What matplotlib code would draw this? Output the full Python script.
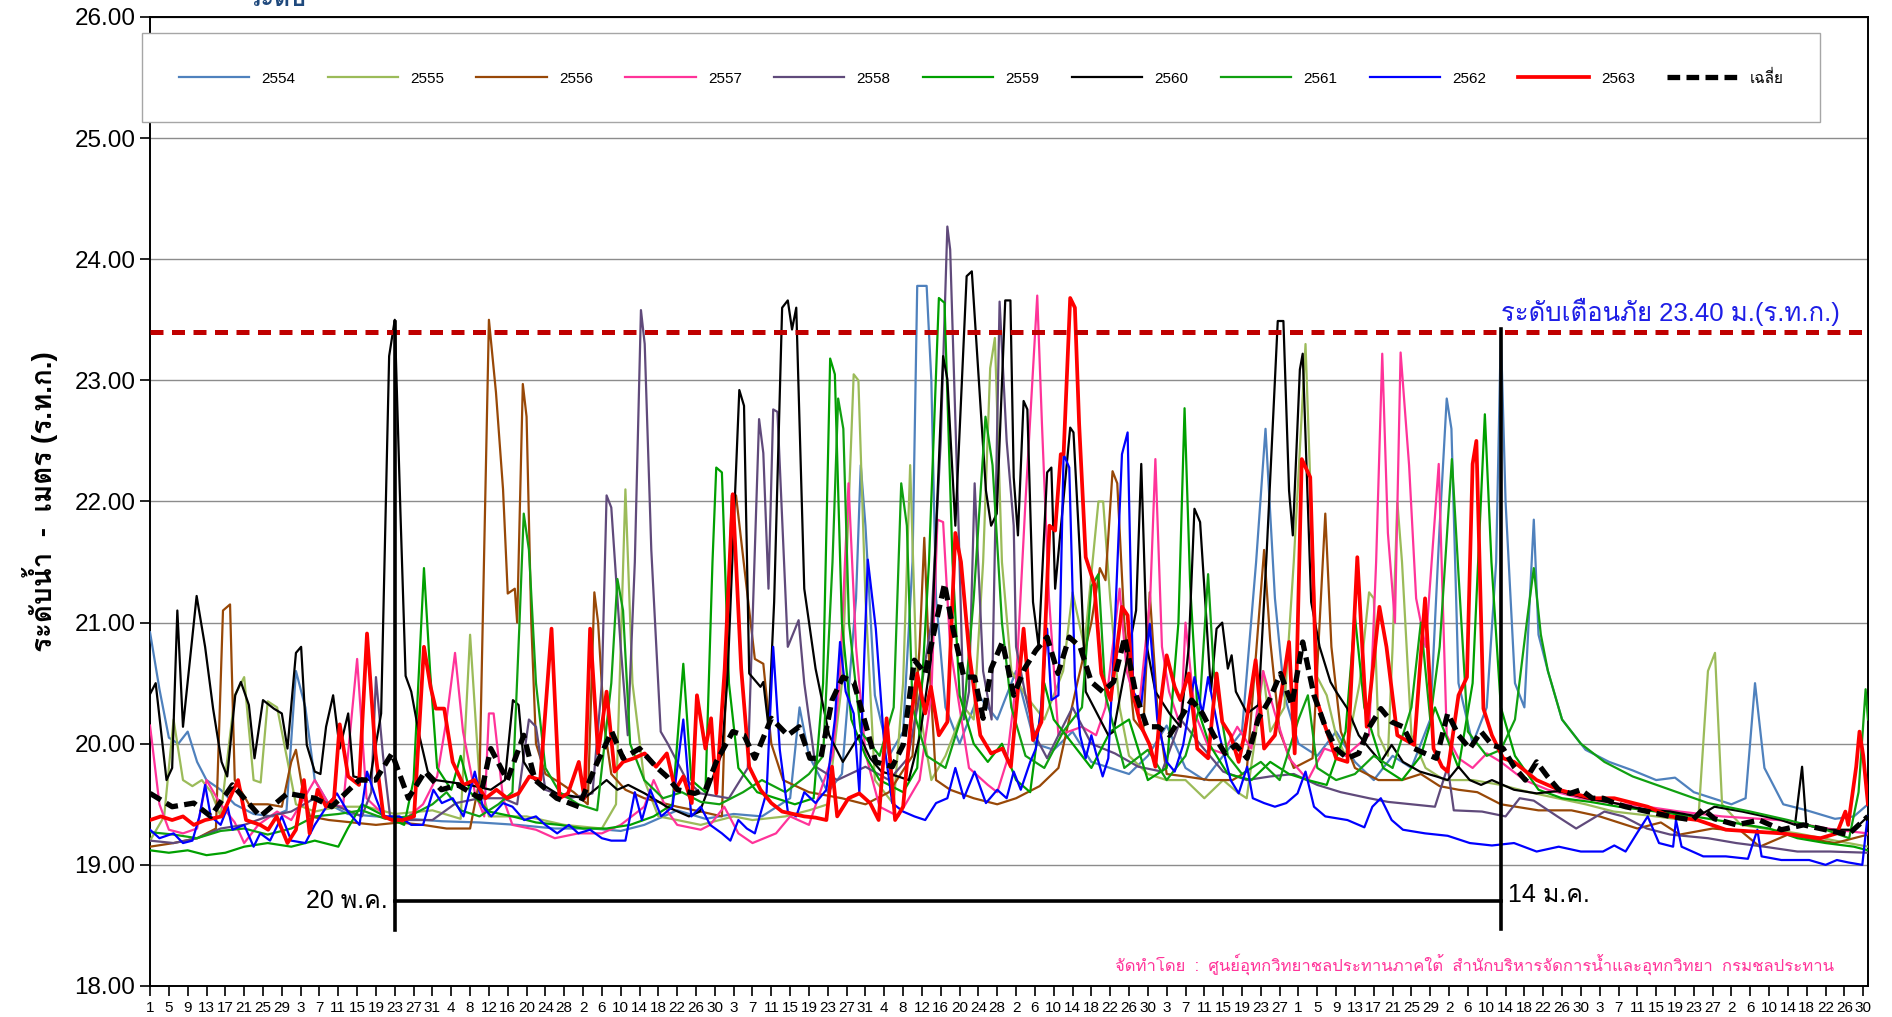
import matplotlib
matplotlib.use("Agg")
from matplotlib import pyplot as plt, font_manager
from matplotlib.ft2font import FT2Font

# ---- data (day index from 1 Apr, water level m.MSL) ----
years = ["2554", "2555", "2556", "2557", "2558", "2559", "2560", "2561", "2562", "2563"]
colors = ["#4F81BD", "#9BBB59", "#984807", "#FF3399", "#604A7B", "#00A000", "#000000", "#10A010", "#0000FF", "#FF0000"]
month_len = [30, 31, 30, 31, 31, 30, 31, 30, 31, 31, 29, 31]

s2554 = [(0, 20.92), (2, 20.45), (4, 20.05), (6, 20.0), (8, 20.1), (10, 19.85), (12, 19.7), (15, 19.62), (18, 19.5),
         (22, 19.42), (26, 19.4), (29, 19.45), (31, 20.6), (33, 20.3), (35, 19.7), (38, 19.5), (42, 19.42), (48, 19.4),
         (55, 19.38), (62, 19.36), (70, 19.35), (78, 19.33), (86, 19.3), (94, 19.3), (100, 19.28), (105, 19.33),
         (112, 19.45), (118, 19.38), (124, 19.42), (130, 19.4), (136, 19.55), (138, 20.3), (140, 19.9), (144, 19.6),
         (147, 19.75), (150, 21.2), (151, 22.3), (152, 21.8), (154, 20.4), (157, 19.9), (160, 20.1), (162, 21.5),
         (163, 23.78), (165, 23.78), (166, 23.0), (167, 21.2), (169, 20.3), (172, 20.0), (176, 20.4), (180, 20.2),
         (184, 20.6), (188, 20.0), (192, 19.95), (196, 20.1), (200, 19.85), (204, 19.8), (208, 19.75), (212, 19.9),
         (216, 20.15), (220, 19.8), (224, 19.7), (228, 19.9), (232, 20.1), (235, 21.5), (237, 22.6), (239, 21.2),
         (241, 20.4), (244, 20.0), (248, 19.9), (252, 20.1), (256, 19.85), (260, 19.7), (264, 19.9), (268, 19.8),
         (272, 20.2), (274, 21.8), (275.5, 22.85), (276.5, 22.6), (278, 20.5), (281, 20.0), (284, 20.3), (286, 21.5),
         (287, 23.4), (288, 22.0), (290, 20.5), (292, 20.3), (294, 21.85), (295, 20.9), (297, 20.6), (300, 20.2),
         (305, 19.95), (310, 19.85), (315, 19.78), (320, 19.7), (324, 19.72), (328, 19.6), (332, 19.55), (336, 19.5),
         (339, 19.55), (341, 20.5), (343, 19.8), (347, 19.5), (352, 19.45), (358, 19.38), (362, 19.4), (365, 19.5)]

s2555 = [(0, 19.2), (3, 19.4), (5, 20.2), (7, 19.7), (9, 19.65), (11, 19.7), (13, 19.6), (15, 19.4), (18, 20.4),
         (20, 20.55), (22, 19.7), (23.5, 19.68), (25, 20.35), (27, 20.3), (29, 19.9), (31, 19.5), (35, 19.44),
         (40, 19.48), (46, 19.48), (52, 19.42), (60, 19.45), (66, 19.38), (68, 20.9), (70, 19.7), (72, 19.4),
         (80, 19.4), (88, 19.33), (96, 19.3), (99, 19.5), (101, 22.1), (102.5, 20.5), (105, 19.7), (108, 19.4),
         (112, 19.37), (117, 19.33), (124, 19.4), (128, 19.37), (135, 19.4), (140, 19.45), (144, 19.5), (147, 20.5),
         (149.5, 23.05), (150.5, 23.0), (152, 21.2), (154, 19.7), (158, 19.5), (160, 20.5), (161.5, 22.3), (163, 20.4),
         (166, 19.7), (169, 19.9), (173, 20.3), (175, 20.2), (177, 21.5), (178.5, 23.1), (179.5, 23.35), (181, 21.5),
         (183, 20.6), (186, 20.4), (190, 20.2), (194, 20.6), (196, 21.25), (198.5, 20.8), (201.5, 22.0), (202.5, 22.0),
         (204, 21.2), (206, 20.3), (208, 19.9), (212, 19.75), (216, 19.7), (220, 19.7), (224, 19.55), (228, 19.7),
         (231, 19.6), (233, 19.55), (235, 20.1), (236.5, 20.6), (238, 20.1), (241, 20.3), (243, 21.5), (245.5, 23.3),
         (247, 21.6), (248, 20.55), (250, 20.4), (252, 20.07), (254, 19.9), (257, 20.5), (259, 21.25), (260, 21.2),
         (261, 20.07), (263, 19.9), (264, 20.8), (265, 22.0), (266, 21.5), (268, 20.07), (271, 19.8), (275, 19.7),
         (281, 19.7), (287, 19.66), (293, 19.6), (299, 19.55), (305, 19.5), (311, 19.44), (320, 19.4), (326, 19.37),
         (329, 19.4), (331, 20.6), (332.5, 20.75), (334, 19.5), (338, 19.33), (343, 19.3), (350, 19.26), (358, 19.2),
         (365, 19.15)]

s2556 = [(0, 19.15), (5, 19.18), (10, 19.22), (14, 19.3), (15.5, 21.1), (17, 21.15), (18, 19.7), (21, 19.5), (25, 19.5),
         (28, 19.48), (30, 19.85), (31, 19.95), (32.5, 19.6), (34, 19.4), (38, 19.37), (43, 19.35), (48, 19.33),
         (53, 19.35), (58, 19.33), (63, 19.3), (68, 19.3), (70, 19.7), (72, 23.5), (73.5, 22.9), (75, 22.1),
         (76, 21.24), (77.5, 21.28), (78, 21.0), (79.2, 22.97), (80, 22.7), (81, 21.0), (82, 20.0), (84, 19.75),
         (87, 19.68), (90, 19.6), (93, 19.5), (94.4, 21.25), (95.2, 21.0), (96.5, 20.15), (98, 19.75), (101, 19.62),
         (105, 19.55), (112, 19.48), (117, 19.44), (121.5, 19.4), (123.6, 22.05), (124.5, 22.05), (128.5, 20.7),
         (130.3, 20.66), (132, 20.0), (134.5, 19.7), (140, 19.6), (147, 19.55), (152, 19.5), (157, 19.6), (162, 19.9),
         (163.5, 20.8), (164.5, 21.7), (165.5, 20.7), (167, 19.7), (170, 19.62), (175, 19.55), (180, 19.5), (184, 19.55),
         (189, 19.65), (193, 19.8), (197, 20.5), (200, 21.0), (201.8, 21.45), (203, 21.35), (204.5, 22.25),
         (205.5, 22.15), (207, 21.0), (209, 20.2), (211, 20.1), (212.4, 21.25), (214, 20.3), (216, 19.75), (220, 19.73),
         (225, 19.7), (230, 19.7), (233, 19.77), (235, 20.75), (236.7, 21.6), (238, 20.85), (240, 20.1), (243, 19.8),
         (247, 19.88), (249.7, 21.9), (251, 20.8), (253, 20.1), (256, 19.8), (261, 19.7), (266, 19.7), (270, 19.75),
         (274, 19.65), (278, 19.62), (282, 19.6), (287, 19.5), (295, 19.45), (302, 19.45), (308, 19.4), (316, 19.3),
         (321, 19.35), (325, 19.25), (332, 19.3), (338, 19.28), (342, 19.15), (348, 19.25), (352, 19.22), (358, 19.18),
         (365, 19.25)]

s2557 = [(0, 20.15), (2, 19.5), (4, 19.29), (7, 19.26), (10, 19.3), (12, 19.7), (15, 19.5), (18, 19.35), (20, 19.18),
         (23, 19.33), (27, 19.44), (30, 19.37), (35, 19.7), (38, 19.5), (41, 19.48), (44, 20.7), (46, 19.55), (50, 19.4),
         (54, 19.37), (58, 19.5), (61, 19.73), (63, 20.2), (64.8, 20.75), (66.5, 20.1), (69, 19.6), (71, 19.4),
         (72, 20.25), (73, 20.25), (75, 19.55), (77, 19.33), (82, 19.29), (86, 19.22), (91, 19.26), (96, 19.26),
         (100, 19.33), (105, 19.48), (107, 19.7), (110, 19.44), (112, 19.33), (117, 19.29), (119, 19.33), (122, 19.48),
         (125, 19.26), (128, 19.18), (133, 19.26), (136, 19.4), (140, 19.33), (145, 19.9), (146.5, 20.5), (148.4, 22.15),
         (150, 20.8), (152, 19.92), (155, 19.48), (159, 19.4), (163.5, 19.7), (166, 20.4), (167.3, 21.85), (168.5, 21.83),
         (170, 20.8), (172, 20.3), (174, 19.8), (178, 19.66), (180, 19.6), (182, 19.85), (184, 20.5), (186, 22.0),
         (188.5, 23.7), (189.5, 22.64), (191, 21.2), (193, 20.07), (198, 20.14), (201, 20.07), (203, 20.3), (206, 21.28),
         (207.5, 20.6), (210, 20.25), (212.5, 21.2), (213.6, 22.35), (215, 20.8), (216.5, 20.43), (219, 20.14),
         (220, 21.0), (222, 20.25), (225, 19.96), (228, 19.92), (231, 20.14), (234, 19.96), (236.5, 20.6), (239, 20.25),
         (242, 19.88), (246, 19.7), (249.5, 19.96), (254, 19.9), (259, 20.07), (260.5, 21.5), (261.8, 23.22),
         (263, 21.74), (264.5, 21.0), (265.7, 23.23), (267.5, 22.3), (269, 21.2), (271, 20.8), (273.8, 22.31),
         (275.5, 20.07), (278, 19.88), (281, 19.8), (284, 19.92), (287, 19.85), (292, 19.7), (297, 19.62), (304, 19.55),
         (311, 19.51), (318, 19.48), (325, 19.44), (334, 19.4), (346, 19.37), (352, 19.33), (358, 19.29), (365, 19.26)]

s2558 = [(0, 19.2), (5, 19.18), (10, 19.22), (15, 19.3), (20, 19.33), (25, 19.4), (30, 19.44), (35, 19.55), (40, 19.48),
         (45, 19.4), (47, 19.6), (48, 20.55), (49.5, 19.9), (51, 19.4), (55, 19.37), (60, 19.37), (65, 19.51), (70, 19.55),
         (75, 19.55), (78, 19.5), (80.5, 20.2), (82, 20.14), (84, 19.62), (89, 19.55), (94, 19.59), (96, 20.5),
         (97, 22.05), (98, 21.95), (100, 20.8), (101.5, 20.07), (103, 21.5), (104.3, 23.58), (105.1, 23.3),
         (106.5, 21.6), (108.5, 20.1), (110, 20.0), (114, 19.7), (117, 19.59), (123, 19.55), (127, 19.8), (129.4, 22.68),
         (130.3, 22.4), (131.4, 21.28), (132.4, 22.76), (133.3, 22.74), (135.5, 20.8), (137.8, 21.02), (139, 20.5),
         (141.4, 19.81), (146, 19.7), (152, 19.81), (157, 19.7), (161, 19.88), (164, 20.5), (166, 21.0), (168, 22.5),
         (169.4, 24.27), (170, 24.08), (171.7, 21.91), (172.9, 20.2), (174, 20.43), (175.2, 22.15), (177, 20.6),
         (178.8, 20.2), (180.5, 23.65), (182, 22.5), (183.5, 21.8), (184, 20.8), (186, 20.4), (188, 20.07),
         (190.6, 19.88), (193, 20.07), (196, 20.3), (200, 20.0), (205, 19.92), (210, 19.81), (215, 19.77), (219, 20.2),
         (223, 20.0), (228, 19.77), (233, 19.7), (238, 19.73), (243, 19.75), (248, 19.66), (253, 19.6), (259, 19.55),
         (263, 19.52), (268, 19.5), (273, 19.48), (275.7, 19.81), (277, 19.45), (283, 19.44), (288, 19.4), (291, 19.55),
         (294, 19.53), (299, 19.4), (303, 19.3), (306, 19.37), (309, 19.44), (313, 19.4), (318, 19.3), (323, 19.25),
         (331, 19.22), (337, 19.18), (343, 19.15), (350, 19.11), (357, 19.11), (365, 19.1)]

s2559 = [(0, 19.12), (4, 19.1), (8, 19.12), (12, 19.08), (16, 19.1), (20, 19.15), (25, 19.18), (30, 19.15), (35, 19.2),
         (40, 19.15), (42, 19.3), (45, 19.5), (50, 19.4), (54, 19.33), (56, 19.7), (58.2, 21.45), (59.5, 20.6),
         (61, 19.8), (64, 19.62), (66, 19.9), (68, 19.6), (72, 19.44), (77, 19.4), (82, 19.35), (87, 19.33), (92, 19.3),
         (97, 19.3), (102, 19.33), (107, 19.4), (111, 19.5), (113.3, 20.66), (115, 19.7), (118, 19.6), (119.5, 21.5),
         (120.3, 22.28), (121.5, 22.24), (123, 20.5), (125, 19.8), (129, 19.6), (133, 19.55), (137, 19.5), (141, 19.55),
         (143, 20.5), (144.5, 23.18), (145.5, 23.05), (147, 21.0), (149, 20.2), (152, 19.9), (155, 19.7), (160, 19.6),
         (163, 19.8), (165.5, 21.5), (167.6, 23.68), (168.8, 23.64), (170.5, 21.5), (172, 20.4), (175, 20.0),
         (178, 19.85), (181, 20.0), (184, 19.7), (187, 19.6), (190, 20.5), (192, 20.2), (196, 20.0), (200, 19.8),
         (204, 20.1), (208, 20.2), (212, 19.7), (216, 19.8), (218.5, 21.0), (219.8, 22.77), (221, 21.3), (222.5, 20.3),
         (225, 20.0), (229, 19.75), (234, 19.7), (238, 19.85), (242, 19.75), (246, 19.7), (250, 19.66), (254, 20.1),
         (256, 21.05), (258, 20.3), (262, 19.8), (266, 19.7), (270, 19.9), (273, 20.3), (278, 19.8), (281, 20.5),
         (283.6, 22.72), (285, 21.5), (287, 20.3), (290, 19.9), (295, 19.62), (300, 19.55), (306, 19.52), (312, 19.48),
         (320, 19.44), (328, 19.4), (336, 19.35), (344, 19.3), (350, 19.22), (356, 19.18), (362, 19.15), (365, 19.12)]

s2560 = [(0, 20.41), (1.2, 20.5), (3.5, 19.7), (4.7, 19.8), (5.8, 21.1), (7, 20.14), (9.9, 21.22), (11.7, 20.8),
         (13.4, 20.29), (15.2, 19.85), (16.4, 19.73), (18.1, 20.4), (19.3, 20.51), (21, 20.32), (22.2, 19.88),
         (24, 20.36), (26.3, 20.29), (28, 20.25), (29.2, 19.96), (31, 20.75), (32.1, 20.8), (33.3, 19.99), (35, 19.77),
         (36.2, 19.75), (37.4, 20.14), (38.9, 20.4), (40.3, 19.96), (42.1, 20.25), (43.2, 19.73), (46.7, 19.7),
         (49.1, 20.25), (50.8, 23.2), (52, 23.5), (53.2, 21.91), (54.3, 20.56), (55.5, 20.43), (57.2, 20.07), (59, 19.77),
         (60.7, 19.7), (67.8, 19.66), (72.4, 19.62), (75.4, 19.7), (77.1, 20.36), (78.3, 20.32), (79.4, 19.85),
         (81.8, 19.7), (86.4, 19.59), (92.3, 19.55), (97, 19.7), (99.3, 19.62), (101.6, 19.66), (105.1, 19.59),
         (109.8, 19.48), (114.5, 19.4), (116.8, 19.44), (121.5, 19.92), (122.7, 20.55), (125.2, 22.92), (126.2, 22.79),
         (127.3, 20.58), (129.7, 20.47), (130.3, 20.51), (131.4, 20.14), (132.6, 21.17), (134.3, 23.6), (135.5, 23.66),
         (136.4, 23.42), (137.3, 23.6), (139, 21.28), (141.4, 20.62), (144.3, 20.07), (147.2, 19.85), (150.7, 20.07),
         (153, 19.88), (155.4, 19.77), (158.9, 19.73), (161.2, 19.7), (163.6, 20.07), (165.9, 20.69), (168.5, 23.2),
         (169.4, 23.01), (171.1, 21.8), (173.5, 23.86), (174.6, 23.9), (177.6, 22.09), (178.7, 21.8), (179.9, 21.9),
         (181.7, 23.66), (182.8, 23.66), (183.5, 22.2), (184.4, 21.72), (185.6, 22.83), (186.4, 22.76), (187.6, 21.17),
         (188.8, 20.8), (190.6, 22.24), (191.5, 22.28), (192.3, 21.28), (195.5, 22.61), (196.2, 22.57), (197.6, 21.54),
         (198.8, 20.43), (201.2, 20.25), (203.6, 20.07), (204.7, 20.1), (209.5, 21.1), (210.6, 22.31), (211.8, 20.8),
         (213.6, 20.43), (216.6, 20.25), (218.9, 20.14), (220.7, 20.8), (221.9, 21.94), (223.1, 21.83), (224.2, 21.17),
         (225.4, 20.43), (226.6, 20.95), (227.8, 21.0), (229, 20.62), (229.8, 20.73), (230.7, 20.43), (233.1, 20.25),
         (235.5, 20.32), (237.2, 21.54), (239.6, 23.49), (240.8, 23.49), (242, 22.09), (242.8, 21.72), (244.3, 23.09),
         (244.9, 23.22), (246.7, 21.17), (248.5, 20.8), (250.8, 20.51), (252, 20.43), (254.4, 20.29), (256.8, 20.07),
         (259.1, 19.96), (261.5, 19.85), (263.8, 19.99), (266.2, 19.85), (269.8, 19.77), (273.3, 19.73), (275.7, 19.7),
         (278, 19.81), (280.4, 19.7), (282.8, 19.66), (285.1, 19.7), (289.8, 19.62), (294.6, 19.59), (299.3, 19.61),
         (305.2, 19.55), (311.1, 19.51), (317, 19.46), (323, 19.44), (328.8, 19.4), (332.4, 19.48), (338.3, 19.44),
         (346.6, 19.37), (349.5, 19.33), (351, 19.81), (351.9, 19.33), (356, 19.29), (362, 19.29), (365, 19.4)]

s2561 = [(0, 19.27), (5, 19.25), (10, 19.22), (15, 19.28), (20, 19.3), (25, 19.25), (30, 19.3), (35, 19.4), (40, 19.42),
         (45, 19.45), (50, 19.38), (55, 19.4), (60, 19.5), (63, 19.6), (66, 19.45), (70, 19.4), (74, 19.5), (77, 19.6),
         (78.5, 21.0), (79.4, 21.9), (80.5, 21.6), (82, 20.5), (84, 19.8), (87, 19.6), (91, 19.5), (95, 19.45),
         (98, 20.5), (99.3, 21.36), (100.5, 21.1), (102, 20.0), (105, 19.7), (109, 19.55), (113, 19.6), (117, 19.52),
         (121, 19.5), (126, 19.6), (130, 19.7), (135, 19.6), (140, 19.75), (143, 19.9), (145, 21.5), (146.2, 22.85),
         (147.3, 22.6), (148.5, 21.0), (151, 20.1), (155, 19.9), (158, 20.3), (159.6, 22.15), (160.8, 21.8), (162, 20.3),
         (165, 19.9), (169, 19.8), (173, 20.3), (175, 21.2), (177.5, 22.7), (179, 22.3), (181, 21.0), (183, 20.3),
         (186, 19.9), (190, 19.8), (194, 20.1), (198, 20.3), (200, 21.3), (201.5, 21.4), (203, 20.4), (207, 19.8),
         (212, 19.95), (216, 19.7), (220, 19.9), (223, 20.3), (224.8, 21.4), (226, 20.6), (229, 19.9), (232, 19.75),
         (236, 19.85), (240, 19.7), (244, 20.2), (246, 20.4), (248, 19.8), (252, 19.7), (256, 19.75), (260, 19.9),
         (264, 19.8), (268, 20.3), (270, 21.0), (272, 20.2), (274, 20.8), (276.6, 22.35), (278, 21.4), (280, 20.1),
         (284, 19.9), (287, 19.95), (290, 20.2), (292.5, 21.0), (294, 21.45), (295.5, 20.9), (297, 20.6), (300, 20.2),
         (304, 20.0), (309, 19.85), (315, 19.73), (323, 19.62), (331, 19.51), (340, 19.44), (348, 19.37), (356, 19.29),
         (361, 19.22), (363, 19.6), (364.5, 20.45), (365, 20.2)]

s2562 = [(0, 19.29), (2, 19.22), (5, 19.26), (7, 19.18), (9, 19.2), (10.5, 19.4), (11.7, 19.66), (12.9, 19.4),
         (15, 19.33), (16.5, 19.48), (17.5, 19.29), (20, 19.33), (22, 19.15), (23.4, 19.26), (25.5, 19.2), (28, 19.4),
         (30, 19.2), (33, 19.18), (35, 19.33), (37.5, 19.48), (39.7, 19.59), (42, 19.44), (44.5, 19.33), (46.1, 19.77),
         (48, 19.55), (49.5, 19.4), (53, 19.4), (55.5, 19.33), (58, 19.33), (60.2, 19.62), (62, 19.51), (64.3, 19.55),
         (66.6, 19.4), (69, 19.77), (70.7, 19.48), (72.5, 19.4), (75, 19.51), (77, 19.48), (79.5, 19.37), (82, 19.4),
         (84, 19.33), (86.5, 19.26), (89, 19.33), (91, 19.26), (93.5, 19.29), (96, 19.22), (98, 19.2), (101, 19.2),
         (103, 19.6), (104.5, 19.37), (106.3, 19.62), (108.6, 19.4), (111, 19.48), (113.3, 20.2), (115, 19.4),
         (117, 19.48), (119, 19.33), (121.5, 19.26), (123.3, 19.2), (125, 19.37), (126.8, 19.3), (128.5, 19.26),
         (131, 19.6), (132.4, 20.8), (133.8, 19.95), (135.5, 19.44), (137.3, 19.4), (139, 19.6), (141.4, 19.51),
         (143.7, 19.62), (145.5, 20.2), (146.6, 20.84), (147.8, 20.43), (149.5, 20.25), (150.7, 19.6), (152.5, 21.52),
         (154.2, 20.95), (156, 19.99), (157.7, 19.51), (160, 19.44), (162.4, 19.4), (164.7, 19.37), (167, 19.51),
         (169.4, 19.55), (171.1, 19.8), (172.9, 19.55), (175.2, 19.77), (177.6, 19.51), (180, 19.62), (182, 19.55),
         (183.5, 19.77), (185, 19.62), (187, 19.85), (188.2, 19.96), (189.2, 20.25), (190.6, 20.95), (191.5, 20.36),
         (193, 20.4), (194.1, 22.39), (195.3, 22.28), (196.5, 20.55), (197.6, 20.07), (198.8, 19.88), (200, 20.07),
         (201, 19.92), (202.4, 19.73), (203.6, 19.88), (204.8, 20.8), (206.5, 22.39), (207.7, 22.57), (208.9, 20.43),
         (210.6, 20.32), (212.4, 20.99), (214, 20.2), (216, 19.85), (217.7, 19.77), (219.5, 19.99), (221.9, 20.55),
         (223.6, 20.25), (224.8, 20.55), (227.2, 20.07), (229.6, 19.7), (231.3, 19.59), (233.1, 19.81), (234.3, 19.55),
         (236.7, 19.51), (239, 19.48), (241.4, 19.51), (243.8, 19.59), (245.5, 19.77), (247.3, 19.48), (249.7, 19.4),
         (254.4, 19.37), (258, 19.31), (259.7, 19.48), (261.5, 19.55), (263.8, 19.37), (266.2, 19.29), (270.9, 19.26),
         (275.7, 19.24), (280.4, 19.18), (285.1, 19.16), (289.8, 19.18), (294.6, 19.11), (299.3, 19.15), (304, 19.11),
         (308.7, 19.11), (311.1, 19.16), (313.5, 19.11), (315.9, 19.26), (318.2, 19.4), (320.6, 19.18), (323.6, 19.15),
         (324.2, 19.37), (325.4, 19.15), (330, 19.07), (334.8, 19.07), (339.5, 19.05), (341.5, 19.29), (342.4, 19.07),
         (346.6, 19.04), (352.5, 19.04), (356, 19.0), (358.4, 19.04), (360.8, 19.02), (363.8, 19.0), (364.9, 19.4),
         (365, 19.4)]

s2563 = [(0, 19.37), (2.3, 19.4), (4.7, 19.37), (7, 19.4), (9.3, 19.33), (11.7, 19.37), (15.2, 19.4), (18.7, 19.7),
         (20.4, 19.37), (23.4, 19.33), (25.1, 19.29), (26.9, 19.4), (29.2, 19.18), (31, 19.29), (32.7, 19.7),
         (33.9, 19.26), (35.6, 19.62), (37.4, 19.48), (39.1, 19.55), (40.3, 20.16), (42.1, 19.73), (44.4, 19.66),
         (46.1, 20.91), (47.9, 19.92), (49.6, 19.4), (51.4, 19.37), (53.7, 19.37), (56.1, 19.4), (58.2, 20.8),
         (59.6, 20.47), (60.7, 20.29), (62.5, 20.29), (64.3, 19.85), (66.6, 19.66), (68.9, 19.7), (71.3, 19.55),
         (73.6, 19.62), (75.9, 19.55), (78.3, 19.59), (80.6, 19.73), (82.9, 19.7), (85.3, 20.95), (87, 19.55),
         (88.8, 19.59), (91.1, 19.85), (92.3, 19.55), (93.5, 20.95), (95.2, 19.92), (97, 20.43), (98.7, 19.77),
         (100.5, 19.85), (102.8, 19.88), (105.1, 19.92), (107.5, 19.81), (109.8, 19.92), (111.6, 19.62), (113.3, 19.73),
         (115.1, 19.51), (116.2, 20.4), (118, 19.96), (119.2, 20.21), (120.3, 19.59), (122.1, 20.62), (123.8, 22.06),
         (125.6, 20.62), (127.3, 19.81), (129.7, 19.62), (132, 19.51), (134.3, 19.44), (136.7, 19.42), (139, 19.4),
         (141.4, 19.39), (143.7, 19.37), (144.9, 19.81), (146, 19.4), (148.4, 19.55), (150.7, 19.59), (153, 19.51),
         (154.8, 19.37), (156.5, 20.21), (158.3, 19.37), (160, 19.48), (161.8, 20.25), (163, 20.58), (164.7, 20.25),
         (165.9, 20.47), (167.6, 20.07), (169.4, 20.18), (171.1, 21.74), (172.3, 21.5), (174.1, 20.73), (176.4, 20.07),
         (178.7, 19.92), (181.1, 19.96), (182.9, 19.81), (185.6, 20.95), (187.6, 20.03), (189.4, 20.18), (191.1, 21.8),
         (192.3, 21.76), (193.5, 22.39), (194.1, 22.39), (195.5, 23.68), (196.5, 23.6), (197.4, 22.64), (198.8, 21.54),
         (200.6, 21.32), (202.1, 20.58), (204.1, 20.36), (206.5, 21.13), (207.7, 21.06), (208.9, 20.4), (210.6, 20.14),
         (212.4, 19.99), (213.6, 19.81), (214.8, 20.36), (216, 20.73), (217.7, 20.47), (218.9, 20.36), (220.7, 20.58),
         (222.5, 19.96), (224.8, 19.88), (226.6, 20.58), (227.8, 20.18), (229.6, 20.07), (231.3, 19.85), (232.5, 20.07),
         (234.9, 20.69), (236.7, 19.96), (239, 20.07), (242, 20.84), (243.2, 19.92), (244.7, 22.35), (246.5, 22.2),
         (247.9, 20.36), (249.7, 20.14), (252, 19.88), (254.4, 19.85), (256.5, 21.54), (258.5, 20.14), (261.2, 21.13),
         (262.7, 20.8), (265, 20.07), (268.6, 19.99), (270.9, 21.2), (272.7, 19.96), (274.5, 19.81), (275.7, 19.77),
         (278, 20.4), (279.8, 20.55), (281, 22.31), (281.8, 22.5), (283.3, 20.29), (285.1, 20.07), (287.5, 19.88),
         (289.8, 19.85), (294.6, 19.7), (299.3, 19.62), (306.4, 19.55), (311.1, 19.55), (318.2, 19.48), (323, 19.4),
         (328.8, 19.37), (334.8, 19.29), (346.6, 19.26), (354.9, 19.22), (358.4, 19.26), (360.2, 19.44), (360.8, 19.33),
         (362.5, 19.81), (363.2, 20.1), (364, 19.9), (365, 19.5)]

s_avg = [(0, 19.59), (4.7, 19.48), (9.3, 19.51), (12.9, 19.4), (17.5, 19.66), (23.4, 19.4), (29.2, 19.59), (35, 19.55),
         (38.6, 19.48), (44.4, 19.7), (47.9, 19.7), (51.4, 19.92), (54.9, 19.55), (58.4, 19.77), (61.9, 19.62),
         (65.4, 19.66), (70.1, 19.55), (72.4, 19.96), (75.9, 19.7), (79.4, 20.07), (81.8, 19.7), (86.4, 19.55),
         (91.1, 19.48), (94.6, 19.81), (98.1, 20.1), (100.5, 19.88), (104, 19.96), (107.5, 19.81), (109.8, 19.73),
         (112.1, 19.62), (115.7, 19.59), (118, 19.62), (120.3, 19.85), (123.8, 20.1), (126.2, 20.07), (128.5, 19.88),
         (132, 20.21), (135.5, 20.07), (137.9, 20.14), (140.2, 19.88), (142.5, 19.88), (144.9, 20.36), (147.2, 20.55),
         (149.5, 20.51), (151.9, 20.18), (154.2, 19.85), (157.7, 19.81), (160, 19.99), (162.4, 20.69), (164.7, 20.58),
         (167, 21.0), (168.8, 21.32), (170.6, 20.95), (172.9, 20.55), (175.2, 20.55), (177, 20.21), (178.7, 20.62),
         (181.1, 20.84), (183.5, 20.4), (185.8, 20.62), (188.2, 20.77), (190.6, 20.88), (192.9, 20.58), (195.3, 20.88),
         (197.6, 20.8), (200, 20.51), (202.4, 20.43), (204.7, 20.51), (207.1, 20.88), (209.5, 20.4), (211.8, 20.14),
         (214.2, 20.14), (216.6, 20.07), (218.9, 20.21), (221.3, 20.36), (223.6, 20.25), (226, 20.07), (228.4, 19.92),
         (230.7, 19.99), (233.1, 19.88), (235.5, 20.21), (237.8, 20.36), (240.2, 20.58), (242.6, 20.32), (244.9, 20.84),
         (247.3, 20.4), (249.7, 20.14), (252, 19.96), (254.4, 19.88), (256.8, 19.92), (259.1, 20.14), (261.5, 20.29),
         (263.8, 20.18), (266.2, 20.14), (268.6, 19.96), (270.9, 19.92), (273.3, 19.88), (275.7, 20.25), (278, 20.07),
         (280.4, 19.96), (282.8, 20.1), (285.1, 19.99), (287.5, 19.96), (289.8, 19.81), (292.2, 19.7), (294.6, 19.85),
         (296.9, 19.73), (299.3, 19.62), (301.7, 19.59), (304, 19.62), (306.4, 19.55), (308.7, 19.55), (311.1, 19.51),
         (313.5, 19.48), (318.2, 19.44), (323, 19.4), (327.7, 19.37), (330, 19.46), (332.4, 19.38), (337.1, 19.33),
         (341.9, 19.37), (346.6, 19.29), (351.3, 19.33), (356, 19.29), (360.8, 19.25), (365, 19.4)]

series = [s2554, s2555, s2556, s2557, s2558, s2559, s2560, s2561, s2562, s2563]

warn_level = 23.40
ann_start, ann_end, ann_level = 52, 287, 18.70   # 20 May -> 14 Jan


# ---- fonts: need a family that has Thai glyphs ----
def find_thai_font():
    for f in font_manager.fontManager.ttflist:
        try:
            if 0x0E14 in FT2Font(f.fname).get_charmap():
                return f.name
        except Exception:
            pass
    return None

thai = find_thai_font()
fams = ["Liberation Sans"] + ([thai] if thai else []) + ["DejaVu Sans"]
plt.rcParams["font.family"] = fams

# day-of-month tick labels
dom = []
for n in month_len:
    dom += list(range(1, n + 1))
xt = list(range(0, len(dom), 4))

fig = plt.figure(figsize=(18.92, 10.17), dpi=100)
ax = fig.add_axes([0.0793, 0.0305, 0.908, 0.9528])

handles = []
for yr, col, s in zip(years, colors, series):
    xs = [p[0] for p in s]
    ys = [p[1] for p in s]
    lw = 2.7 if yr == "2563" else 1.6
    h, = ax.plot(xs, ys, color=col, lw=lw, label=yr, zorder=3)
    handles.append(h)

h, = ax.plot([p[0] for p in s_avg], [p[1] for p in s_avg], color="black", lw=3.8,
             dashes=(2.4, 1.2), label="เฉลี่ย", zorder=4)
handles.append(h)

# warning level
ax.axhline(warn_level, color="#C00000", lw=3.6, dashes=(2.6, 1.7), zorder=5)
ax.text(ann_end, warn_level + 0.05, "ระดับเตือนภัย 23.40 ม.(ร.ท.ก.)", color="#1E1EE6",
        fontsize=18.5, ha="left", va="bottom", zorder=6)

# period annotation
ax.plot([ann_start, ann_start], [18.46, 23.48], color="black", lw=2.6, zorder=6)
ax.plot([ann_end, ann_end], [18.47, 23.42], color="black", lw=2.6, zorder=6)
ax.plot([ann_start, ann_end], [ann_level, ann_level], color="black", lw=2.6, zorder=6)
ax.text(ann_start - 1.5, ann_level, "20 พ.ค.", fontsize=18, ha="right", va="center", zorder=6)
ax.text(ann_end + 1.5, ann_level + 0.05, "14 ม.ค.", fontsize=18, ha="left", va="center", zorder=6)

ax.text(0.98, 0.022, "จัดทำโดย  :  ศูนย์อุทกวิทยาชลประทานภาคใต้  สำนักบริหารจัดการน้ำและอุทกวิทยา  กรมชลประทาน",
        transform=ax.transAxes, color="#FF3399", fontsize=12, ha="right", va="center")

ax.set_xlim(0, 365)
ax.set_ylim(18, 26)
ax.set_yticks(range(18, 27))
ax.set_yticklabels(["%.2f" % v for v in range(18, 27)], fontsize=17.5)
ax.set_xticks(xt)
ax.set_xticklabels([str(dom[i]) for i in xt], fontsize=11)
ax.tick_params(axis="both", direction="out", length=7, width=1.2, color="black")
ax.tick_params(axis="x", pad=4)
ax.grid(axis="y", color="#8C8C8C", lw=1.0, zorder=0)
ax.set_axisbelow(True)
for sp in ax.spines.values():
    sp.set_color("black")
    sp.set_linewidth(1.4)

leg = ax.legend(handles=handles, loc="upper left", bbox_to_anchor=(-0.0047, 0.8885, 0.977, 0.095),
                mode="expand", ncol=11, fontsize=11, handlelength=4.6, borderpad=2.4,
                fancybox=False, framealpha=1, edgecolor="#A6A6A6", borderaxespad=0)
leg.get_frame().set_linewidth(1.0)
leg.set_zorder(10)

fig.text(0.021, 0.507, "ระดับน้ำ  -  เมตร (ร.ท.ก.)", rotation=90, fontsize=20, fontweight="bold",
         ha="center", va="center")
# clipped title at the very top
fig.text(0.131, 1 - 6 / 1017, "ระดับ", color="#1F497D", fontsize=18, fontweight="bold", va="baseline")

fig.savefig("out.png", dpi=100)
